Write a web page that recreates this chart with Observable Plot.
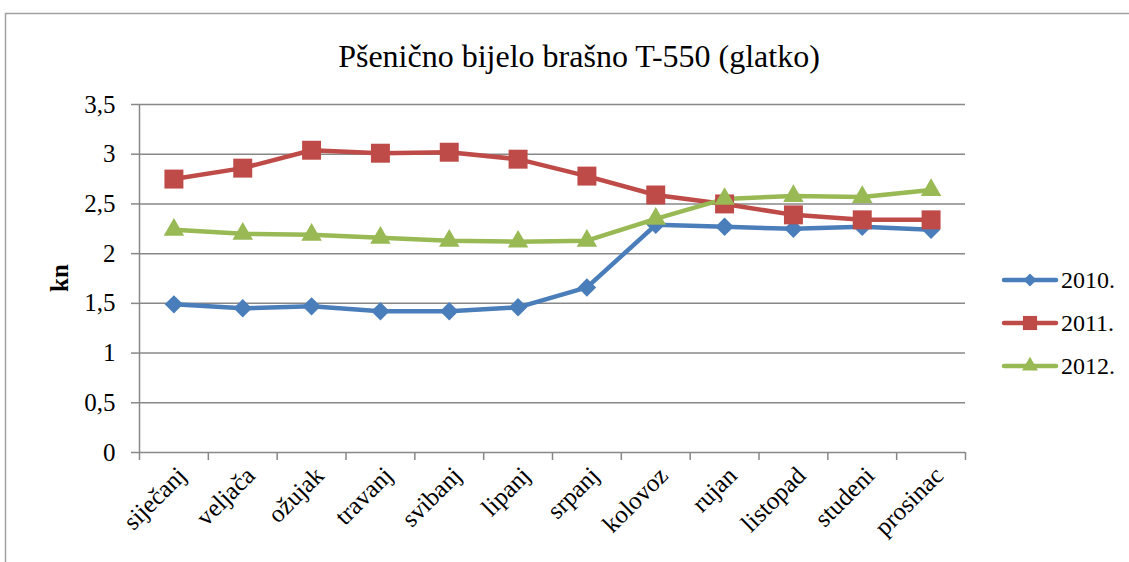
<!DOCTYPE html>
<html>
<head>
<meta charset="utf-8">
<script src="https://cdn.jsdelivr.net/npm/d3@7"></script>
<script src="https://cdn.jsdelivr.net/npm/@observablehq/plot@0.6"></script>
<style>
  html, body { margin: 0; padding: 0; background: #fff; }
  #chart { position: relative; width: 1129px; height: 562px; overflow: hidden; font-family: "Liberation Serif"; }
  #chart svg text { font-family: "Liberation Serif"; }
</style>
</head>
<body>
<div id="chart"></div>
<script>
const title = "Pšenično bijelo brašno T-550 (glatko)";
const yLabel = "kn";
const months = ["siječanj","veljača","ožujak","travanj","svibanj","lipanj","srpanj","kolovoz","rujan","listopad","studeni","prosinac"];
const years = ["2010.","2011.","2012."];
const s2010 = [1.49,1.45,1.47,1.42,1.42,1.46,1.66,2.29,2.27,2.25,2.27,2.24];
const s2011 = [2.75,2.86,3.04,3.01,3.02,2.95,2.78,2.59,2.50,2.39,2.34,2.34];
const s2012 = [2.24,2.20,2.19,2.16,2.13,2.12,2.13,2.35,2.55,2.58,2.57,2.64];
const yTicks = [0,0.5,1,1.5,2,2.5,3,3.5];

const colors = ["#4a7ebb","#be4b48","#98b954"];
const series = [s2010, s2011, s2012];
const data = [];
series.forEach((s, k) => s.forEach((v, i) => data.push({year: years[k], month: months[i], i, pos: i + 0.5, value: v})));
const byYear = y => data.filter(d => d.year === y);

const W = 1129, H = 562;
const gridColor = "#888888";
const FONT = "Liberation Serif";

const chart = Plot.plot({
  width: W, height: H,
  marginLeft: 139, marginRight: 164, marginTop: 104, marginBottom: 110,
  x: {domain: [0, 12]},
  y: {domain: [0, 3.5]},
  style: {fontFamily: FONT, fontSize: "25px", background: "transparent", color: "black"},
  marks: [
    Plot.ruleY(yTicks.filter(d => d > 0), {stroke: gridColor, strokeWidth: 1.5}),
    Plot.ruleY([0], {stroke: gridColor, strokeWidth: 1.5}),
    Plot.ruleX([0], {stroke: gridColor, strokeWidth: 1.5}),
    Plot.axisY({ticks: yTicks, tickSize: 8, tickPadding: 16, stroke: gridColor, strokeWidth: 1.5, fill: "black", label: null,
      fontSize: 25, tickFormat: d => String(d).replace(".", ",")}),
    Plot.axisX({ticks: d3.range(13), tickSize: 8, stroke: gridColor, strokeWidth: 1.5, tickFormat: () => "", label: null}),
    Plot.axisX({ticks: months.map((d, i) => i + 0.5), tickSize: 0, tickPadding: 19, tickRotate: -45, dx: 8,
      fontSize: 25, fill: "black", label: null, tickFormat: d => months[Math.floor(d)]}),
    ...years.map((y, k) => Plot.line(byYear(y), {x: "pos", y: "value", stroke: colors[k], strokeWidth: 4.5, strokeLinejoin: "round", strokeLinecap: "round"})),
    Plot.dot(byYear(years[0]), {x: "pos", y: "value", symbol: "diamond2", r: 8.3, fill: colors[0], stroke: "none"}),
    Plot.dot(byYear(years[1]), {x: "pos", y: "value", symbol: "square", r: 10.7, fill: colors[1], stroke: "none"}),
    Plot.dot(byYear(years[2]), {x: "pos", y: "value", symbol: "triangle", r: 7.6, fill: colors[2], stroke: "none"})
  ]
});

document.getElementById("chart").appendChild(chart);
chart.setAttribute("font-family", FONT);

const svg = d3.select(chart);
svg.selectAll('g[aria-label="y-axis tick label"], g[aria-label="x-axis tick label"]')
  .attr("font-size", 25).style("font-size", "25px");

// outer chart border
svg.insert("rect", ":first-child")
  .attr("x", 5.5).attr("y", 13.5).attr("width", 1200).attr("height", 700)
  .attr("fill", "none").attr("stroke", "#a0a0a0").attr("stroke-width", 1.5);

// title
svg.append("text")
  .attr("x", 579).attr("y", 67)
  .attr("text-anchor", "middle")
  .attr("font-family", FONT)
  .attr("font-size", 32)
  .attr("fill", "black")
  .text(title);

// y label
svg.append("text")
  .attr("transform", "translate(68,278) rotate(-90)")
  .attr("text-anchor", "middle")
  .attr("font-family", FONT)
  .attr("font-size", 25)
  .attr("font-weight", "bold")
  .attr("fill", "black")
  .text(yLabel);

// legend
const symbols = [d3.symbolDiamond2, d3.symbolSquare, d3.symbolTriangle];
const symSizes = [110, 200, 110];
const legend = svg.append("g");
years.forEach((y, k) => {
  const cy = 280 + k * 43;
  const g = legend.append("g");
  g.append("line").attr("x1", 1004).attr("x2", 1056).attr("y1", cy).attr("y2", cy)
    .attr("stroke", colors[k]).attr("stroke-width", 4.5).attr("stroke-linecap", "round");
  g.append("path").attr("transform", `translate(1030,${cy})`)
    .attr("d", d3.symbol(symbols[k], symSizes[k])()).attr("fill", colors[k]);
  g.append("text").attr("x", 1061).attr("y", cy + 8)
    .attr("text-anchor", "start")
    .attr("font-family", FONT)
    .attr("font-size", 24).attr("fill", "black").text(y);
});
</script>
</body>
</html>
